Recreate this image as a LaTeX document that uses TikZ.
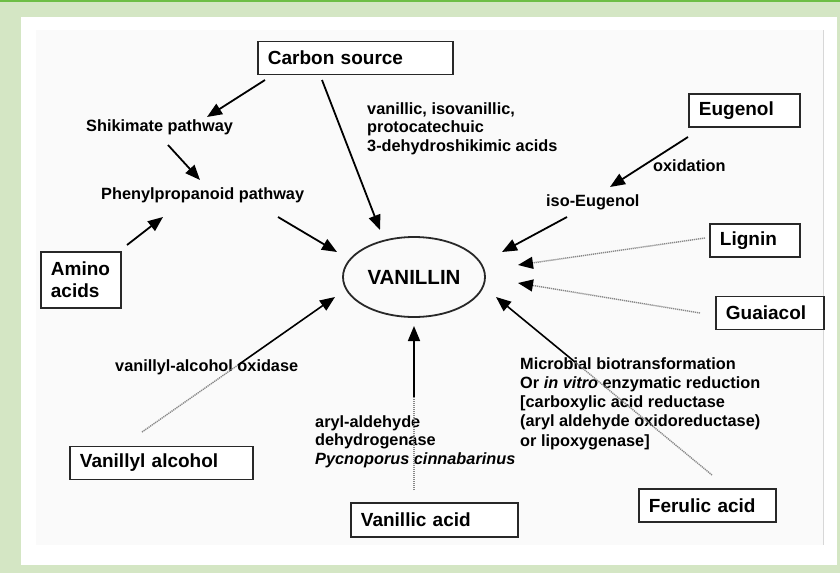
\documentclass[tikz,border=0pt]{standalone}
\usepackage{fontspec}
\setmainfont{Liberation Sans}
\usetikzlibrary{arrows.meta,shapes.geometric}
\definecolor{bggreen}{RGB}{212,230,196}
\definecolor{topgreen}{RGB}{110,190,70}
\definecolor{boxline}{RGB}{40,40,40}
\definecolor{dotgray}{RGB}{135,135,135}
\definecolor{paper}{RGB}{250,250,250}
\definecolor{edgegray}{RGB}{215,215,215}
\begin{document}
\begin{tikzpicture}[x=1pt,y=-1pt,
  box/.style={draw=boxline, line width=1.8pt, fill=white, minimum height=33pt, inner xsep=10pt, inner ysep=0pt, align=left, font=\fontsize{19}{22}\selectfont\bfseries, anchor=west},
  lbl/.style={font=\fontsize{16.3}{18.6}\selectfont\bfseries, inner sep=0pt, align=left, anchor=west},
  arr/.style={draw=black, line width=1.8pt, -{Triangle[length=15pt,width=12pt]}},
  dotarr/.style={draw=dotgray, line width=1.4pt, dash pattern=on 1.2pt off 0.8pt, -{Triangle[length=15pt,width=12pt,color=black]}},
  fade/.style={draw=dotgray, line width=1.4pt, dash pattern=on 1.2pt off 0.8pt},
]
\useasboundingbox (0,0) rectangle (840,573);
% frame
\fill[bggreen] (0,0) rectangle (840,573);
\fill[white] (21,17) rectangle (837,565);
\fill[paper] (36,30) rectangle (823,545);
\draw[edgegray, line width=1pt] (823,30) -- (823,545);
\fill[topgreen] (0,0) rectangle (840,2);

% central node
\node[draw=boxline, ellipse, line width=1.8pt, minimum width=142pt, minimum height=80pt, inner sep=0pt,
      font=\fontsize{20.5}{24}\selectfont\bfseries] (van) at (414,277) {VANILLIN};

% boxes
\node[box, text width=175pt] (carbon) at (257,58) {Carbon source};
\node[box, text width=91pt] (eugenol) at (688,110.5) {Eugenol};
\node[box, text width=70pt] (lignin) at (709,240.5) {Lignin};
\node[box, text width=88pt] (guaiacol) at (715,313) {Guaiacol};
\node[box, text width=117pt] (ferulic) at (638,505.5) {Ferulic acid};
\node[box, text width=147pt, minimum height=34pt] (vanacid) at (350,520) {Vanillic acid};
\node[box, text width=163pt] (valc) at (69,463) {Vanillyl alcohol};
\node[box, text width=60pt, minimum height=56pt] (amino) at (40,280) {Amino\\acids};

% labels
\node[lbl] (shik) at (86,127) {Shikimate pathway};
\node[lbl] (phenyl) at (101,195) {Phenylpropanoid pathway};
\node[lbl] (vlab) at (367,128.5) {vanillic, isovanillic,\\protocatechuic\\3-dehydroshikimic acids};
\node[lbl] (oxid) at (653,166) {oxidation};
\node[lbl] (isoeug) at (546,202) {iso-Eugenol};
\node[lbl] (vao) at (115,367) {vanillyl-alcohol oxidase};
\node[lbl] (aryl) at (315,441.5) {aryl-aldehyde\\dehydrogenase\\\textit{Pycnoporus cinnabarinus}};
\node[lbl, font=\fontsize{16.3}{19.2}\selectfont\bfseries] (micro) at (520,403.5) {Microbial biotransformation\\Or \textit{in vitro} enzymatic reduction\\{[}carboxylic acid reductase\\(aryl aldehyde oxidoreductase)\\or lipoxygenase{]}};

% connector end points
\coordinate (c1s) at (265,80);  \coordinate (c1e) at (207,117);
\coordinate (c2s) at (168,145); \coordinate (c2e) at (200,180);
\coordinate (c3s) at (127,245); \coordinate (c3e) at (163,217);
\coordinate (c4s) at (278,217); \coordinate (c4e) at (337,252);
\coordinate (c5s) at (322,80);  \coordinate (c5e) at (380,230);
\coordinate (c6s) at (688,137); \coordinate (c6e) at (610,187);
\coordinate (c7s) at (567,217); \coordinate (c7e) at (502,252);
\coordinate (c8s) at (705,238); \coordinate (c8e) at (518,265);
\coordinate (c9s) at (700,313); \coordinate (c9e) at (518,283);
\coordinate (c10s) at (142,432); \coordinate (c10m) at (238,365); \coordinate (c10e) at (335,297);
\coordinate (c11s) at (414,490); \coordinate (c11m) at (414,397); \coordinate (c11e) at (414,326);
\coordinate (c12s) at (712,475); \coordinate (c12m) at (575,362); \coordinate (c12e) at (496,297);

% connectors
\draw[arr] (c1s) -- (c1e);
\draw[arr] (c2s) -- (c2e);
\draw[arr] (c3s) -- (c3e);
\draw[arr] (c4s) -- (c4e);
\draw[arr] (c5s) -- (c5e);
\draw[arr] (c6s) -- (c6e);
\draw[arr] (c7s) -- (c7e);
\draw[dotarr] (c8s) -- (c8e);
\draw[dotarr] (c9s) -- (c9e);
\draw[fade] (c10s) -- (c10m);
\draw[arr, line width=1.6pt] (c10m) -- (c10e);
\draw[fade] (c11s) -- (c11m);
\draw[arr, line width=1.6pt] (c11m) -- (c11e);
\draw[fade] (c12s) -- (c12m);
\draw[arr, line width=1.6pt] (c12m) -- (c12e);
\end{tikzpicture}
\end{document}
